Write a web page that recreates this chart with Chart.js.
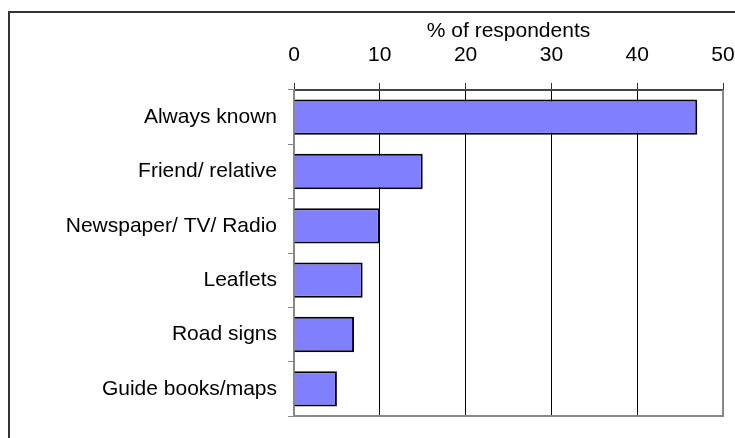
<!DOCTYPE html>
<html>
<head>
<meta charset="utf-8">
<script src="https://cdn.jsdelivr.net/npm/chart.js@4/dist/chart.umd.min.js"></script>
<style>
  html, body { margin: 0; padding: 0; background: #fff; }
  #wrap { width: 735px; height: 438px; position: relative; }
</style>
</head>
<body>
<div id="wrap"><canvas id="sourceChart"></canvas></div>
<script>
// Chart values
const sources = ['Always known', 'Friend/ relative', 'Newspaper/ TV/ Radio', 'Leaflets', 'Road signs', 'Guide books/maps'];
const respondentsPct = [47, 15, 10, 8, 7, 5];
const axisMin = 0;
const axisMax = 50;
const axisStep = 10;
const axisTitle = '% of respondents';

const fontFamily = "'Liberation Sans', Arial, sans-serif";

// outer frame + right/bottom plot border
const framePlugin = {
    id: 'frame',
    beforeDraw(chart) {
        const c = chart.ctx;
        c.save();
        c.fillStyle = '#fff';
        c.fillRect(0, 0, chart.width, chart.height);
        c.strokeStyle = '#333';
        c.lineWidth = 2;
        c.strokeRect(9, 12, chart.width + 20, chart.height + 20);
        c.restore();
    },
    afterDatasetsDraw(chart) {
        const a = chart.chartArea;
        const c = chart.ctx;
        c.save();
        c.strokeStyle = '#888';
        c.lineWidth = 2;
        c.beginPath();
        c.moveTo(a.right, a.top);
        c.lineTo(a.right, a.bottom);
        c.lineTo(a.left, a.bottom);
        c.stroke();
        c.restore();
    }
};

const ctx = document.getElementById('sourceChart').getContext('2d');
const sourceChart = new Chart(ctx, {
    type: 'bar',
    data: {
        labels: sources,
        datasets: [{
            data: respondentsPct,
            backgroundColor: '#8080ff',
            borderColor: '#000',
            borderWidth: 2,
            barPercentage: 0.65,
            categoryPercentage: 1
        }]
    },
    options: {
        indexAxis: 'y',
        responsive: true,
        maintainAspectRatio: false,
        animation: false,
        layout: { padding: { top: 0, left: 0, right: 12, bottom: 22 } },
        plugins: {
            legend: { display: false },
            tooltip: { enabled: false }
        },
        scales: {
            x: {
                position: 'top',
                min: axisMin,
                max: axisMax,
                ticks: { stepSize: axisStep, color: '#000', padding: 15, font: { family: fontFamily, size: 21 } },
                grid: { color: '#000', lineWidth: 1, tickLength: 7, tickColor: '#333' },
                border: { color: '#444', width: 2 },
                title: {
                    display: true,
                    text: axisTitle,
                    color: '#000',
                    padding: { top: 19, bottom: 0 },
                    font: { family: fontFamily, size: 21 }
                },
                afterFit(scale) {
                    scale.height = 90;
                    scale.paddingLeft = 0;
                    scale.paddingRight = 0;
                }
            },
            y: {
                ticks: { color: '#000', padding: 11, font: { family: fontFamily, size: 21 } },
                grid: { drawOnChartArea: false, tickLength: 6, tickColor: '#888', offset: true },
                border: { color: '#888', width: 2 },
                afterFit(scale) {
                    scale.width = 294;
                    scale.paddingTop = 0;
                    scale.paddingBottom = 0;
                }
            }
        }
    },
    plugins: [framePlugin]
});
</script>
</body>
</html>
